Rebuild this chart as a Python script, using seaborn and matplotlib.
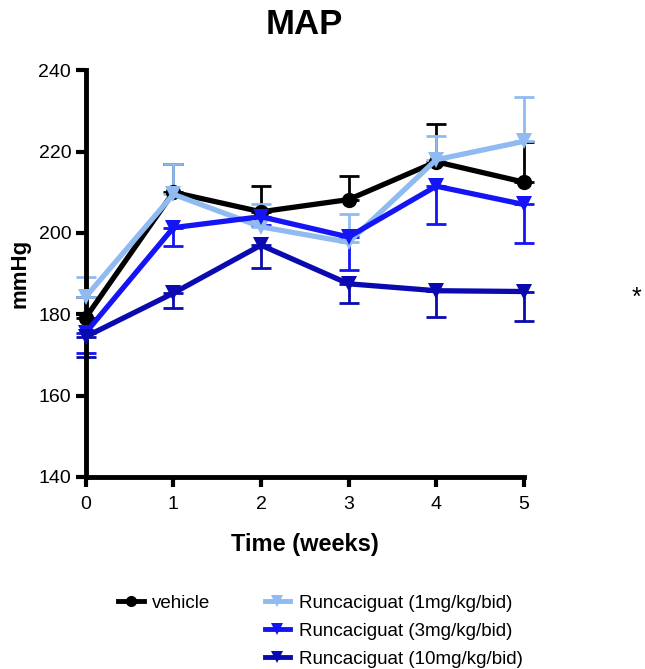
import pandas as pd
import seaborn as sns
import matplotlib.pyplot as plt
from matplotlib.lines import Line2D

weeks = [0, 1, 2, 3, 4, 5]
groups = ['vehicle', 'Runcaciguat (1mg/kg/bid)', 'Runcaciguat (3mg/kg/bid)', 'Runcaciguat (10mg/kg/bid)']

vehicle = [179.2, 210.0, 205.2, 208.2, 217.5, 212.5]
vehicle_sem = [5.0, 6.9, 6.3, 5.8, 9.2, 9.9]
rc1 = [184.3, 209.5, 201.5, 197.7, 218.0, 222.5]
rc1_sem = [4.8, 7.5, 5.5, 6.9, 5.8, 10.9]
rc3 = [175.5, 201.3, 204.0, 199.0, 211.5, 207.0]
rc3_sem = [5.1, 4.5, 2.0, 8.0, 9.3, 9.5]
rc10 = [174.5, 185.2, 197.0, 187.5, 185.8, 185.6]
rc10_sem = [5.0, 3.7, 5.7, 4.7, 6.4, 7.2]

means = [vehicle, rc1, rc3, rc10]
sems = [vehicle_sem, rc1_sem, rc3_sem, rc10_sem]
err_up = [True, True, False, False]  # which side the error bar is drawn on

colors = ['#000000', '#8fbbf0', '#1414f5', '#0a0ab0']
markers = ['o', 'v', 'v', 'v']

df = pd.DataFrame({
    'week': weeks * len(groups),
    'mmHg': [v for m in means for v in m],
    'group': [g for g in groups for _ in weeks],
})

plt.rcParams['font.family'] = ['Liberation Sans', 'DejaVu Sans']
fig = plt.figure(figsize=(6.45, 6.69), dpi=100)
ax = fig.add_axes([0.133, 0.287, 0.679, 0.608])

# error bars first (one-sided, GraphPad style)
for m, s, up, c in zip(means, sems, err_up, colors):
    lower = [0] * len(s) if up else s
    upper = s if up else [0] * len(s)
    eb = ax.errorbar(weeks, m, yerr=[lower, upper], fmt='none', ecolor=c,
                     elinewidth=2, capsize=7, capthick=2, zorder=2)
    for art in eb.lines[1] + eb.lines[2]:
        art.set_clip_on(False)

sns.lineplot(data=df, x='week', y='mmHg', hue='group', style='group',
             palette=dict(zip(groups, colors)), markers=dict(zip(groups, markers)),
             dashes=False, linewidth=3.8, markersize=11, markeredgewidth=0,
             legend=False, ax=ax, zorder=3, clip_on=False)

ax.set_xlim(0, 5)
ax.set_ylim(140, 240)
ax.set_xticks(weeks)
ax.set_yticks(range(140, 241, 20))
ax.tick_params(width=3, length=7, labelsize=14)
ax.tick_params(axis='x', pad=7)
for side in ['top', 'right']:
    ax.spines[side].set_visible(False)
for side in ['left', 'bottom']:
    ax.spines[side].set_linewidth(3.5)
ax.set_xlabel('Time (weeks)', fontsize=17, fontweight='bold', labelpad=14)
ax.set_ylabel('mmHg', fontsize=16, fontweight='bold', labelpad=6)
ax.set_title('MAP', fontsize=25, fontweight='bold', pad=26)
ax.text(1.258, 184, '*', transform=ax.get_yaxis_transform(), fontsize=18, va='center', ha='center')

# legend: vehicle alone in first column
handles = []
for c, mk in zip(colors, markers):
    handles.append(Line2D([], [], color=c, marker=mk, lw=3.5, markersize=8, markeredgewidth=0))
blank = Line2D([], [], color='none')
fig.legend([handles[0], blank, blank, handles[1], handles[2], handles[3]],
           [groups[0], '', '', groups[1], groups[2], groups[3]],
           ncol=2, loc='upper left', bbox_to_anchor=(0.172, 0.122), frameon=False,
           fontsize=13.5, handlelength=1.35, columnspacing=2.9, labelspacing=0.58,
           handletextpad=0.45, borderaxespad=0)

fig.savefig('out.png', dpi=100)
